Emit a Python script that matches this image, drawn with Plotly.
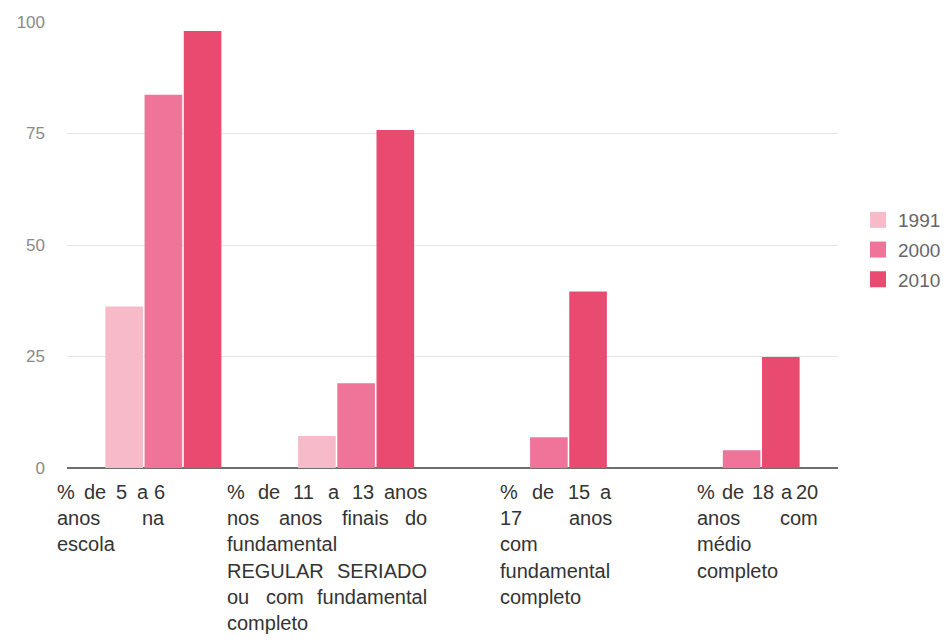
import plotly.graph_objects as go

# ---- data -------------------------------------------------------------
categories = [
    "% de 5 a 6 anos na escola",
    "% de 11 a 13 anos nos anos finais do fundamental REGULAR SERIADO ou com fundamental completo",
    "% de 15 a 17 anos com fundamental completo",
    "% de 18 a 20 anos com médio completo",
]
# category captions, as they wrap under each group
category_lines = [
    ["% de 5 a 6", "anos na", "escola"],
    ["% de 11 a 13 anos", "nos anos finais do", "fundamental",
     "REGULAR SERIADO", "ou com fundamental", "completo"],
    ["% de 15 a", "17 anos", "com", "fundamental", "completo"],
    ["% de 18 a 20", "anos com", "médio", "completo"],
]
years = ["1991", "2000", "2010"]
values_1991 = [36.2, 7.2, 0, 0]
values_2000 = [83.7, 19.0, 6.9, 4.0]
values_2010 = [98.0, 75.8, 39.6, 24.9]
y_ticks = [0, 25, 50, 75, 100]

# ---- styling ------------------------------------------------------------
colors = ["#F7BAC8", "#F07399", "#E94A70"]
FONT = "Liberation Sans, Arial, sans-serif"
W, H = 946, 641
ML, MR, MT, MB = 67, 108, 22, 173
PW, PH = W - ML - MR, H - MT - MB
CAP_SIZE = 20
LINE_STEP = 26.2
FIRST_LINE_Y = 492          # pixel row of the first caption line
# left / right pixel edges of each justified caption column
caption_cols = [(55, 167), (225, 429), (498, 614), (695, 820)]

# Liberation Sans advance widths (1/1000 em)
ADV = {" ": 278, "%": 889, "a": 556, "b": 556, "c": 500, "d": 556, "e": 556,
       "f": 278, "g": 556, "h": 556, "i": 222, "j": 222, "k": 500, "l": 222,
       "m": 833, "n": 556, "o": 556, "p": 556, "q": 556, "r": 333, "s": 500,
       "t": 278, "u": 556, "v": 500, "w": 722, "x": 500, "y": 500, "z": 500,
       "é": 556, "A": 667, "B": 667, "C": 722, "D": 722, "E": 667, "F": 611,
       "G": 778, "H": 722, "I": 278, "L": 556, "O": 778, "R": 722, "S": 667,
       "U": 722}
for d in "0123456789":
    ADV[d] = 556


def text_width(s, size):
    return sum(ADV.get(ch, 556) for ch in s) * size / 1000.0


fig = go.Figure()
for name, vals, col in zip(years, [values_1991, values_2000, values_2010], colors):
    fig.add_trace(go.Bar(
        x=categories, y=vals, name=name, marker=dict(color=col, line=dict(width=0)),
        legendgroup=name, showlegend=False, hoverinfo="x+y+name",
    ))
# legend keys: larger square swatches tied to each bar series
for name, col in zip(years, colors):
    fig.add_trace(go.Scatter(
        x=[None], y=[None], mode="markers", name=name, legendgroup=name,
        marker=dict(symbol="square", size=16, color=col), hoverinfo="skip",
    ))

# justified captions under each category, word by word
annotations = []
for lines, (left, right) in zip(category_lines, caption_cols):
    for i, line in enumerate(lines):
        py = FIRST_LINE_Y + i * LINE_STEP
        words = line.split(" ")
        justify = (i < len(lines) - 1) and len(words) > 1
        if justify:
            widths = [text_width(w, CAP_SIZE) for w in words]
            gap = (right - left - sum(widths)) / (len(words) - 1)
            pos = left
            for j, w in enumerate(words):
                last = j == len(words) - 1
                annotations.append(dict(
                    text=w, xref="paper", yref="paper", x=0, y=0,
                    xshift=(right - ML) if last else (pos - ML),
                    yshift=-(py - (MT + PH)),
                    xanchor="right" if last else "left", yanchor="middle",
                    showarrow=False, font=dict(family=FONT, size=CAP_SIZE, color="#333333"),
                ))
                pos += widths[j] + gap
        else:
            annotations.append(dict(
                text=line, xref="paper", yref="paper", x=0, y=0,
                xshift=left - ML, yshift=-(py - (MT + PH)),
                xanchor="left", yanchor="middle", showarrow=False,
                font=dict(family=FONT, size=CAP_SIZE, color="#333333"),
            ))

fig.update_layout(
    width=W, height=H,
    margin=dict(l=ML, r=MR, t=MT, b=MB, pad=0, autoexpand=False),
    paper_bgcolor="white", plot_bgcolor="white",
    barmode="group", bargap=0.39, bargroupgap=0.04,
    font=dict(family=FONT, color="#555555"),
    showlegend=True,
    legend=dict(
        x=1.0 + (858 - ML - PW) / PW, xanchor="left",
        y=(MT + PH - 250) / PH, yanchor="middle",
        font=dict(family=FONT, size=19, color="#666666"),
        tracegroupgap=2, bgcolor="rgba(0,0,0,0)",
    ),
    annotations=annotations,
    xaxis=dict(
        showticklabels=False, showgrid=False, ticks="",
        showline=False, zeroline=False, fixedrange=True,
    ),
    yaxis=dict(
        range=[0, 100], tickvals=y_ticks, ticktext=[str(t) for t in y_ticks],
        showgrid=True, gridcolor="#E6E6E6", gridwidth=1,
        zeroline=True, zerolinecolor="#6E6E6E", zerolinewidth=1.5,
        ticks="", ticklabelstandoff=21,
        tickfont=dict(family=FONT, size=17, color="#8A8A8A"),
        showline=False, fixedrange=True,
    ),
)

fig.write_html("out.html")
